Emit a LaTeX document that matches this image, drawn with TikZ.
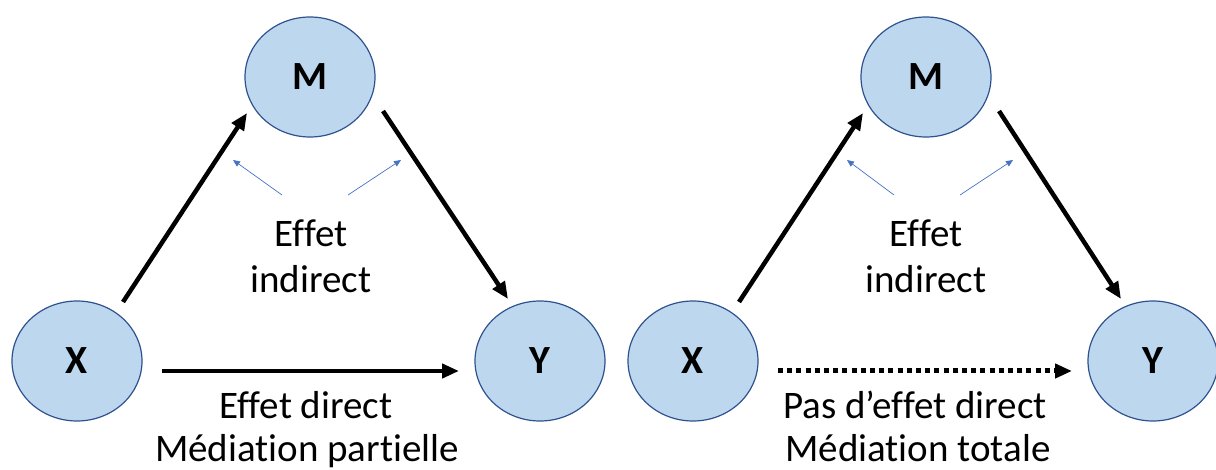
\documentclass[tikz,border=0pt]{standalone}
\usepackage{fontspec}
\setmainfont{Carlito}[Ligatures={NoCommon}]
\usetikzlibrary{arrows.meta,shapes.geometric,calc}
\definecolor{nodefill}{HTML}{BDD7EE}
\definecolor{nodeline}{HTML}{2F528F}
\definecolor{hintblue}{HTML}{4472C4}
\begin{document}
\begin{tikzpicture}[x=1pt,y=-1pt,
  var/.style={ellipse, draw=nodeline, line width=1.2pt, fill=nodefill,
    minimum width=130pt, minimum height=120pt, inner sep=0pt,
    font=\fontsize{40}{44}\selectfont\bfseries},
  label/.style={anchor=base, font=\fontsize{39}{46}\selectfont, inner sep=0pt},
  effect/.style={line width=4.5pt, -{Triangle[length=17pt,width=14pt]}},
  noeffect/.style={line width=5pt, dash pattern=on 5pt off 4.2pt,
    -{Triangle[length=17pt,width=14pt]}},
  hint/.style={draw=hintblue, line width=0.7pt, -{Triangle[length=7pt,width=6pt]}}
]
\useasboundingbox (0,0) rectangle (1216,470);

% Left panel: partial mediation
\node[var] (M1) at (310,77) {M};
\node[var] (X1) at (77,361) {X};
\node[var] (Y1) at (540,361) {Y};
\draw[effect] ($(X1)+(46,-59)$) -- ($(M1)+(-63,36)$);
\draw[effect] ($(M1)+(73,34)$) -- ($(Y1)+(-32,-62)$);
\draw[effect] ($(X1)+(85,10)$) -- ($(Y1)+(-81,10)$);
\draw[hint] ($(M1)+(-28,118)$) -- ($(M1)+(-77,83)$);
\draw[hint] ($(M1)+(38,118)$) -- ($(M1)+(91,83)$);
\node[label] (I1a) at (311,247) {Effet};
\node[label] (I1b) at (311,293) {indirect};
\node[label] (D1a) at (306,418) {Effet direct};
\node[label] (D1b) at (307,461) {Médiation partielle};

% Right panel: total mediation
\node[var] (M2) at (926,77) {M};
\node[var] (X2) at (693,361) {X};
\node[var] (Y2) at (1153,361) {Y};
\draw[effect] ($(X2)+(46,-59)$) -- ($(M2)+(-63,36)$);
\draw[effect] ($(M2)+(73,34)$) -- ($(Y2)+(-32,-62)$);
\draw[noeffect] ($(X2)+(85,10)$) -- ($(Y2)+(-81,10)$);
\draw[hint] ($(M2)+(-32,118)$) -- ($(M2)+(-79,83)$);
\draw[hint] ($(M2)+(34,118)$) -- ($(M2)+(87,83)$);
\node[label] (I2a) at (926,247) {Effet};
\node[label] (I2b) at (926,293) {indirect};
\node[label] (D2a) at (915,418) {Pas d’effet direct};
\node[label] (D2b) at (918,461) {Médiation totale};
\end{tikzpicture}
\end{document}
